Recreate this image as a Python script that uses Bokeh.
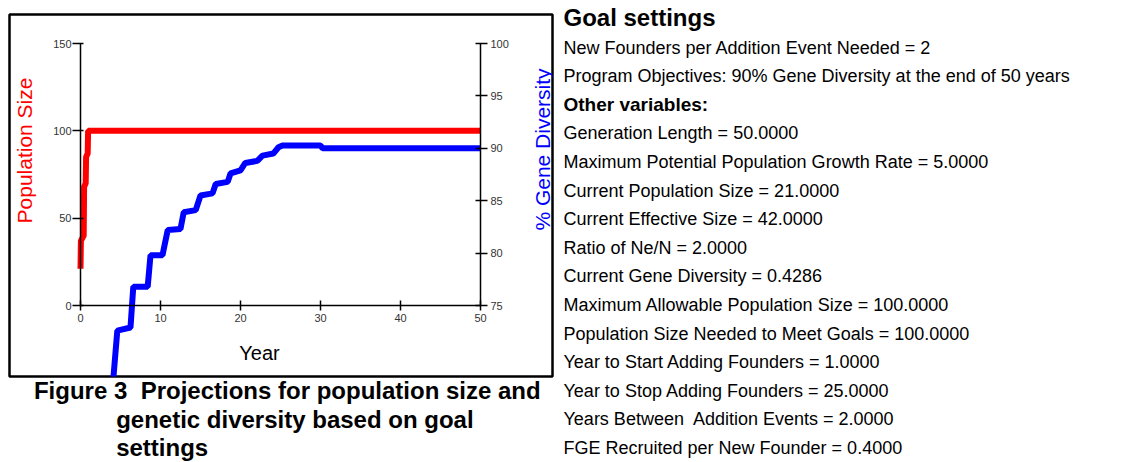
import math
from bokeh.plotting import figure
from bokeh.layouts import row, column
from bokeh.models import Range1d, LinearAxis, FixedTicker, Label
from bokeh.embed import file_html
from bokeh.resources import INLINE

# ---------------- data ----------------
years_pop = [0.0, 0.05, 0.4, 0.45, 0.65, 0.7, 0.9, 0.95, 50.0]
pop_size = [21, 37, 40, 68, 70, 85, 87, 100, 100]

years_gd = [0.0, 4.1, 4.6, 6.25, 6.6, 8.4, 8.75, 10.25, 10.9, 12.5, 12.9, 14.4,
            15.0, 16.5, 16.9, 18.4, 18.75, 20.0, 20.6, 22.1, 22.75, 24.1, 24.75,
            25.25, 30.0, 30.25, 50.0]
gene_div = [42.86, 68.0, 72.6, 72.9, 76.8, 76.8, 79.8, 79.8, 82.2, 82.3, 83.9, 84.1,
            85.5, 85.7, 86.6, 86.8, 87.6, 87.9, 88.6, 88.8, 89.3, 89.5, 90.1,
            90.27, 90.27, 90.0, 90.0]

x_ticks = [0, 10, 20, 30, 40, 50]
pop_ticks = [0, 50, 100, 150]
gd_ticks = [75, 80, 85, 90, 95, 100]

x_label = "Year"
pop_label = "Population Size"
gd_label = "% Gene Diversity"

caption_lines = ["Figure 3\u00a0 Projections for population size and",
                 "genetic diversity based on goal",
                 "settings"]
goal_title = "Goal settings"
goal_lines = ["New Founders per Addition Event Needed = 2",
              "Program Objectives: 90% Gene Diversity at the end of 50 years"]
other_title = "Other variables:"
other_lines = ["Generation Length = 50.0000",
               "Maximum Potential Population Growth Rate = 5.0000",
               "Current Population Size = 21.0000",
               "Current Effective Size = 42.0000",
               "Ratio of Ne/N = 2.0000",
               "Current Gene Diversity = 0.4286",
               "Maximum Allowable Population Size = 100.0000",
               "Population Size Needed to Meet Goals = 100.0000",
               "Year to Start Adding Founders = 1.0000",
               "Year to Stop Adding Founders = 25.0000",
               "Years Between\u00a0 Addition Events = 2.0000",
               "FGE Recruited per New Founder = 0.4000"]

# ---------------- layout (page pixels) ----------------
PAGE_W, PAGE_H = 1143, 462
CH_W, CH_H = 555, 378
FR_L, FR_T, FR_R, FR_B = 9, 14, 552, 376
X0_PX, PX_PER_YEAR = 80, 8.0
Y0_PX = 305
PX_PER_POP = 262.0 / 150.0
PX_PER_GD = 262.0 / 25.0
FONT = "Liberation Sans"


def to_data(px, py):
    return (px - X0_PX) / PX_PER_YEAR, (Y0_PX - py) / PX_PER_POP


p = figure(width=CH_W, height=CH_H, output_backend="svg", toolbar_location=None,
           x_range=Range1d((FR_L - X0_PX) / PX_PER_YEAR, (FR_R - X0_PX) / PX_PER_YEAR),
           y_range=Range1d((Y0_PX - FR_B) / PX_PER_POP, (Y0_PX - FR_T) / PX_PER_POP),
           min_border_left=FR_L, min_border_top=FR_T,
           min_border_right=CH_W - FR_R, min_border_bottom=CH_H - FR_B)
p.extra_y_ranges = {"gd": Range1d(75 - (FR_B - Y0_PX) / PX_PER_GD,
                                  75 + (Y0_PX - FR_T) / PX_PER_GD)}
p.grid.visible = False
p.outline_line_color = "black"
p.outline_line_width = 2.5
p.background_fill_color = "white"
p.border_fill_color = "white"


def style_axis(ax, ticks, bounds, tin, tout, standoff):
    ax.ticker = FixedTicker(ticks=ticks)
    ax.bounds = bounds
    ax.minor_tick_line_color = None
    ax.major_tick_in = tin
    ax.major_tick_out = tout
    ax.major_label_standoff = standoff
    ax.axis_line_color = "black"
    ax.axis_line_width = 1.5
    ax.major_tick_line_color = "black"
    ax.major_tick_line_width = 1.5
    ax.major_label_text_font = FONT
    ax.major_label_text_font_size = "11px"
    ax.major_label_text_color = "#333333"


xa = p.xaxis[0]
style_axis(xa, x_ticks, (0, 50), 5, 5, 3)
xa.fixed_location = 0

ya = p.yaxis[0]
style_axis(ya, pop_ticks, (0, 150), 3, 8, 1)
ya.fixed_location = 0

ra = LinearAxis(y_range_name="gd")
style_axis(ra, gd_ticks, (75, 100), 5, 7, 3)
ra.fixed_location = 50
p.add_layout(ra, "right")

p.line(years_pop, pop_size, line_color="#ff0000", line_width=6)
p.line(years_gd, gene_div, line_color="#0000ff", line_width=6, y_range_name="gd")


def chart_text(px, py, text, size, color="black", angle=0.0):
    x, y = to_data(px, py)
    p.add_layout(Label(x=x, y=y, text=text, text_font=FONT, text_font_size=size,
                       text_color=color, text_align="center", text_baseline="middle",
                       angle=angle))


chart_text(259, 352, x_label, "20px")
chart_text(24, 150, pop_label, "21px", color="#ff0000", angle=math.pi / 2)
chart_text(542, 149, gd_label, "21px", color="#0000ff", angle=math.pi / 2)


# ---------------- text panels (page-pixel coordinates) ----------------
def text_fig(x0, x1, y0, y1):
    f = figure(width=x1 - x0, height=y1 - y0, output_backend="svg", toolbar_location=None,
               x_range=Range1d(x0, x1), y_range=Range1d(y1, y0),
               x_axis_type=None, y_axis_type=None, min_border=0)
    f.grid.visible = False
    f.outline_line_color = None
    f.background_fill_color = "white"
    f.border_fill_color = "white"
    return f


def put(f, px, py, text, size, bold=False):
    f.add_layout(Label(x=px, y=py, text=text, text_font=FONT, text_font_size=size,
                       text_font_style="bold" if bold else "normal", text_color="black",
                       text_align="left", text_baseline="middle"))


CAP_SHIFT = -8  # compensates the observed offset of the caption panel
cap = text_fig(0, CH_W, CH_H, PAGE_H)
cap_y = [390, 419, 447]
cap_x = [33, 117, 117]
for line, cx, cy in zip(caption_lines, cap_x, cap_y):
    put(cap, cx + CAP_SHIFT, cy, line, "24px", bold=True)

side = text_fig(CH_W, PAGE_W, 0, PAGE_H)
put(side, 563, 17, goal_title, "24px", bold=True)
right_lines = [(l, False) for l in goal_lines] + [(other_title, True)] + [(l, False) for l in other_lines]
y0, pitch = 47, 28.6
for i, (line, bold) in enumerate(right_lines):
    put(side, 563, y0 + i * pitch, line, "19px" if bold else "18px", bold=bold)

layout = row(column(p, cap), side)
open("out.html", "w").write(file_html(layout, INLINE))
